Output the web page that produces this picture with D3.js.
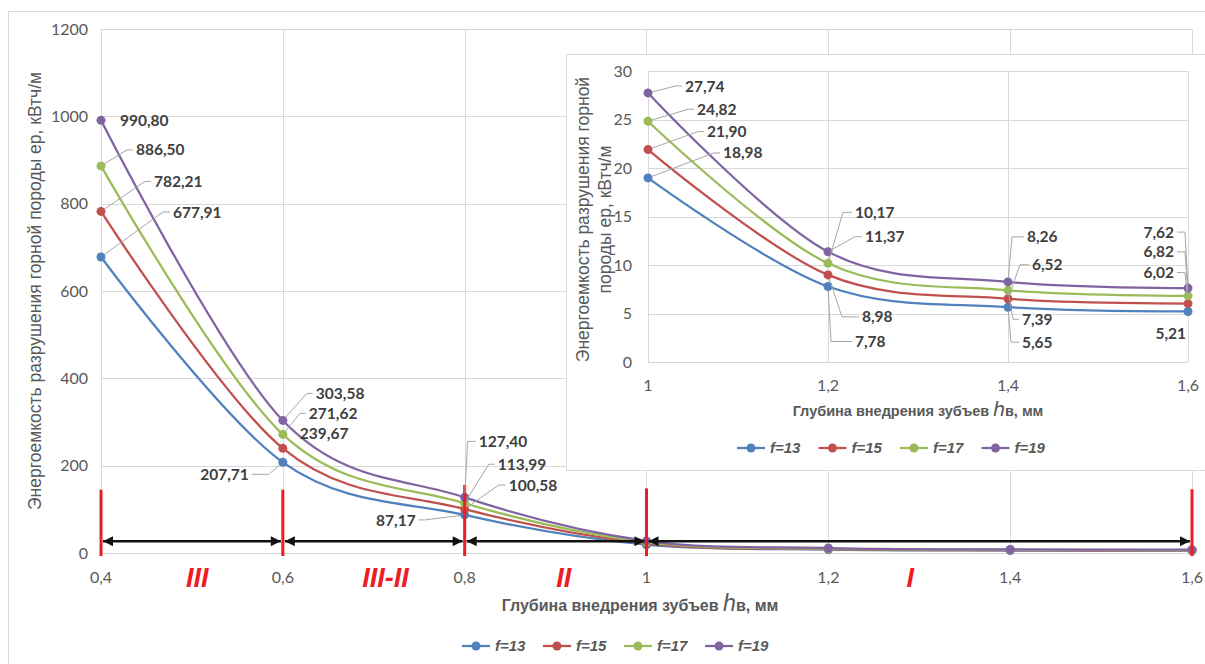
<!DOCTYPE html>
<html>
<head>
<meta charset="utf-8">
<script src="https://cdn.jsdelivr.net/npm/d3@7"></script>
<style>
body { margin: 0; background: #fff; }
svg { display: block; }
</style>
</head>
<body>
<div id="chart"></div>
<script>
// data
var xVals = [0.4, 0.6, 0.8, 1.0, 1.2, 1.4, 1.6];
var seriesNames = ["f=13", "f=15", "f=17", "f=19"];
var f13 = [677.91, 207.71, 87.17, 18.98, 7.78, 5.65, 5.21];
var f15 = [782.21, 239.67, 100.58, 21.90, 8.98, 6.52, 6.02];
var f17 = [886.50, 271.62, 113.99, 24.82, 10.17, 7.39, 6.82];
var f19 = [990.80, 303.58, 127.40, 27.74, 11.37, 8.26, 7.62];
var mainYTicks = [0, 200, 400, 600, 800, 1000, 1200];
var mainXTicks = [0.4, 0.6, 0.8, 1.0, 1.2, 1.4, 1.6];
var insetYTicks = [0, 5, 10, 15, 20, 25, 30];
var insetXTicks = [1.0, 1.2, 1.4, 1.6];
var zoneBounds = [0.4, 0.6, 0.8, 1.0, 1.6];
var zoneTops = [145, 145, 156, 148, 146];
var zoneNames = ["III", "III-II", "II", "I"];
var zoneNameX = [0.506, 0.713, 0.909, 1.29];
var arrowLevel = 27;

var series = [f13, f15, f17, f19];
var colors = ["#4F81BD", "#C0504D", "#9BBB59", "#8064A2"];

var W = 1205, H = 664;
var grid = "#d9d9d9";
var txt = "#595959";
var lblCol = "#404040";
var numFont = "Lato, 'Open Sans', sans-serif";
var titleFont = "'Liberation Sans', Arial, sans-serif";

var fmtTick = function(v) { return d3.format("~g")(+v.toFixed(2)).replace(".", ","); };
var fmtVal = function(v) { return d3.format(".2f")(v).replace(".", ","); };

// label layout: series, point, text offset, anchor, leader elbow (null = no leader)
var mainLabels = [
  {s:3, i:0, dx:19, dy:0, a:"start", e:null},
  {s:2, i:0, dx:35, dy:-16, a:"start", e:[26,-16]},
  {s:1, i:0, dx:53, dy:-30, a:"start", e:[44,-30]},
  {s:0, i:0, dx:72, dy:-45, a:"start", e:[62,-45]},
  {s:3, i:1, dx:33, dy:-27, a:"start", e:[24,-27]},
  {s:2, i:1, dx:26, dy:-21, a:"start", e:[17,-21]},
  {s:1, i:1, dx:17, dy:-15, a:"start", e:null},
  {s:0, i:1, dx:-34, dy:12, a:"end", e:[-14,12]},
  {s:3, i:2, dx:14, dy:-56, a:"start", e:[3,-56]},
  {s:2, i:2, dx:33, dy:-39, a:"start", e:[24,-39]},
  {s:1, i:2, dx:44, dy:-24, a:"start", e:[34,-24]},
  {s:0, i:2, dx:-49, dy:5, a:"end", e:[-40,5]}
];
var insetLabels = [
  {s:3, i:3, dx:37, dy:-7, a:"start", e:[28,-7]},
  {s:2, i:3, dx:49, dy:-12, a:"start", e:[40,-12]},
  {s:1, i:3, dx:59, dy:-18, a:"start", e:[50,-18]},
  {s:0, i:3, dx:75, dy:-25, a:"start", e:[66,-25]},
  {s:3, i:4, dx:37, dy:-15, a:"start", e:[27,-15]},
  {s:2, i:4, dx:27, dy:-51, a:"start", e:[15,-51]},
  {s:1, i:4, dx:34, dy:42, a:"start", e:[14,42]},
  {s:0, i:4, dx:27, dy:55, a:"start", e:[3,55]},
  {s:3, i:5, dx:19, dy:-45, a:"start", e:[4,-45]},
  {s:1, i:5, dx:24, dy:-34, a:"start", e:[12,-34]},
  {s:2, i:5, dx:14, dy:29, a:"start", e:[5,29]},
  {s:0, i:5, dx:14, dy:35, a:"start", e:[3,35]},
  {s:3, i:6, dx:-14, dy:-56, a:"end", e:[-3,-56]},
  {s:2, i:6, dx:-14, dy:-44, a:"end", e:[-3,-44]},
  {s:1, i:6, dx:-14, dy:-31, a:"end", e:[-3,-31]},
  {s:0, i:6, dx:-2, dy:22, a:"end", e:null}
];

var svg = d3.select("#chart").append("svg")
  .attr("width", W).attr("height", H)
  .style("background", "#fff");

var defs = svg.append("defs");
defs.append("marker").attr("id", "ahEnd")
  .attr("viewBox", "0 0 10 10").attr("refX", 10).attr("refY", 5)
  .attr("markerWidth", 11).attr("markerHeight", 10).attr("markerUnits", "userSpaceOnUse")
  .attr("orient", "auto")
  .append("path").attr("d", "M0,0 L10,5 L0,10 Z").attr("fill", "#111");
defs.append("marker").attr("id", "ahStart")
  .attr("viewBox", "0 0 10 10").attr("refX", 0).attr("refY", 5)
  .attr("markerWidth", 11).attr("markerHeight", 10).attr("markerUnits", "userSpaceOnUse")
  .attr("orient", "auto")
  .append("path").attr("d", "M10,0 L0,5 L10,10 Z").attr("fill", "#111");

// outer chart border
svg.append("rect").attr("x", 8.5).attr("y", 11.5).attr("width", W + 20).attr("height", H + 20)
  .attr("fill", "#fff").attr("stroke", grid);

function drawSeries(g, xs, ys, from) {
  var line = d3.line()
    .x(function(d) { return xs(d[0]); })
    .y(function(d) { return ys(d[1]); })
    .curve(d3.curveCardinal.tension(0));
  series.forEach(function(vals, s) {
    var pts = xVals.map(function(x, i) { return [x, vals[i]]; }).slice(from);
    g.append("path").datum(pts)
      .attr("d", line).attr("fill", "none")
      .attr("stroke", colors[s]).attr("stroke-width", 2.25);
    g.selectAll(null).data(pts).enter().append("circle")
      .attr("cx", function(d) { return xs(d[0]); })
      .attr("cy", function(d) { return ys(d[1]); })
      .attr("r", 4.5).attr("fill", colors[s]);
  });
}

function drawLabels(g, list, xs, ys) {
  list.forEach(function(L) {
    var px = xs(xVals[L.i]), py = ys(series[L.s][L.i]);
    var sign = L.a === "start" ? 1 : -1;
    if (L.e) {
      var ex = L.e[0], ey = L.e[1];
      var len = Math.sqrt(ex * ex + ey * ey) || 1;
      g.append("path")
        .attr("d", "M" + (px + ex / len * 4) + "," + (py + ey / len * 4) +
          " L" + (px + ex) + "," + (py + ey) +
          " L" + (px + L.dx - sign * 3) + "," + (py + L.dy))
        .attr("fill", "none").attr("stroke", "#a6a6a6").attr("stroke-width", 1);
    }
    g.append("text")
      .attr("x", px + L.dx).attr("y", py + L.dy).attr("dy", "0.36em")
      .attr("text-anchor", L.a)
      .attr("font-family", numFont).attr("font-weight", "bold").attr("font-size", 15.5)
      .attr("fill", lblCol)
      .text(fmtVal(series[L.s][L.i]));
  });
}

function drawLegend(g, x0, y, step) {
  seriesNames.forEach(function(name, s) {
    var lx = x0 + s * step;
    g.append("line").attr("x1", lx).attr("x2", lx + 28).attr("y1", y).attr("y2", y)
      .attr("stroke", colors[s]).attr("stroke-width", 2.25);
    g.append("circle").attr("cx", lx + 14).attr("cy", y).attr("r", 4.5).attr("fill", colors[s]);
    g.append("text").attr("x", lx + 33).attr("y", y).attr("dy", "0.36em")
      .attr("font-family", titleFont).attr("font-weight", "bold").attr("font-style", "italic")
      .attr("font-size", 15).attr("fill", txt).text(name);
  });
}

function xTitle(g, cx, y, size) {
  var t = g.append("text").attr("x", cx).attr("y", y).attr("text-anchor", "middle")
    .attr("font-family", titleFont).attr("font-weight", "bold").attr("font-size", size)
    .attr("fill", txt);
  t.append("tspan").text("Глубина внедрения зубъев ");
  t.append("tspan").attr("font-style", "italic").attr("font-weight", "normal")
    .attr("font-size", size * 1.45).text("h");
  t.append("tspan").text("в, мм");
}

// ---------- main chart ----------
var x = d3.scaleLinear().domain([0.4, 1.6]).range([101, 1192]);
var y = d3.scaleLinear().domain([0, 1200]).range([553, 29]);
var gm = svg.append("g");

gm.selectAll(null).data(mainYTicks).enter().append("line")
  .attr("x1", x(0.4)).attr("x2", x(1.6))
  .attr("y1", function(d) { return Math.round(y(d)) + 0.5; })
  .attr("y2", function(d) { return Math.round(y(d)) + 0.5; })
  .attr("stroke", grid);
gm.selectAll(null).data(mainXTicks).enter().append("line")
  .attr("x1", function(d) { return Math.round(x(d)) + 0.5; })
  .attr("x2", function(d) { return Math.round(x(d)) + 0.5; })
  .attr("y1", y(1200)).attr("y2", y(0))
  .attr("stroke", grid);

gm.selectAll(null).data(mainYTicks).enter().append("text")
  .attr("x", 88).attr("y", function(d) { return y(d); }).attr("dy", "0.36em")
  .attr("text-anchor", "end").attr("font-family", numFont).attr("font-size", 16)
  .attr("fill", txt).text(function(d) { return d; });
gm.selectAll(null).data(mainXTicks).enter().append("text")
  .attr("x", function(d) { return x(d); }).attr("y", y(0) + 24).attr("dy", "0.36em")
  .attr("text-anchor", "middle").attr("font-family", numFont).attr("font-size", 16)
  .attr("fill", txt).text(fmtTick);

drawSeries(gm, x, y, 0);

// zones: red bounds, arrows, roman numerals
zoneBounds.forEach(function(b, k) {
  gm.append("line").attr("x1", x(b)).attr("x2", x(b))
    .attr("y1", y(-7)).attr("y2", y(zoneTops[k]))
    .attr("stroke", "#ee1c24").attr("stroke-width", 3);
});
zoneNames.forEach(function(name, k) {
  var a = x(zoneBounds[k]) + 2, b = x(zoneBounds[k + 1]) - 2;
  gm.append("line").attr("x1", a).attr("x2", b)
    .attr("y1", y(arrowLevel)).attr("y2", y(arrowLevel))
    .attr("stroke", "#111").attr("stroke-width", 2.5)
    .attr("marker-start", "url(#ahStart)").attr("marker-end", "url(#ahEnd)");
  gm.append("text").attr("x", x(zoneNameX[k])).attr("y", y(0) + 24).attr("dy", "0.36em")
    .attr("text-anchor", "middle").attr("font-family", titleFont)
    .attr("font-weight", "bold").attr("font-style", "italic").attr("font-size", 27)
    .attr("fill", "#ee1c24").text(name);
});

drawLabels(gm, mainLabels, x, y);

gm.append("text")
  .attr("transform", "translate(41," + ((y(0) + y(1200)) / 2) + ") rotate(-90)")
  .attr("text-anchor", "middle").attr("font-family", titleFont).attr("font-size", 17.5)
  .attr("fill", txt).text("Энергоемкость разрушения горной породы  ер, кВтч/м");
xTitle(gm, 640, 611, 16);
drawLegend(gm, 462, 646, 81);

// ---------- inset ----------
var xi = d3.scaleLinear().domain([1.0, 1.6]).range([648, 1188]);
var yi = d3.scaleLinear().domain([0, 30]).range([362, 71]);
var gi = svg.append("g");

gi.append("rect").attr("x", 566.5).attr("y", 54.5).attr("width", 700).attr("height", 416)
  .attr("fill", "#fff").attr("stroke", grid);

gi.selectAll(null).data(insetYTicks).enter().append("line")
  .attr("x1", xi(1.0)).attr("x2", xi(1.6))
  .attr("y1", function(d) { return Math.round(yi(d)) + 0.5; })
  .attr("y2", function(d) { return Math.round(yi(d)) + 0.5; })
  .attr("stroke", grid);
gi.selectAll(null).data(insetXTicks).enter().append("line")
  .attr("x1", function(d) { return Math.round(xi(d)) + 0.5; })
  .attr("x2", function(d) { return Math.round(xi(d)) + 0.5; })
  .attr("y1", yi(30)).attr("y2", yi(0))
  .attr("stroke", grid);

gi.selectAll(null).data(insetYTicks).enter().append("text")
  .attr("x", 632).attr("y", function(d) { return yi(d); }).attr("dy", "0.36em")
  .attr("text-anchor", "end").attr("font-family", numFont).attr("font-size", 16)
  .attr("fill", txt).text(function(d) { return d; });
gi.selectAll(null).data(insetXTicks).enter().append("text")
  .attr("x", function(d) { return xi(d); }).attr("y", yi(0) + 23).attr("dy", "0.36em")
  .attr("text-anchor", "middle").attr("font-family", numFont).attr("font-size", 16)
  .attr("fill", txt).text(fmtTick);

drawSeries(gi, xi, yi, 3);
drawLabels(gi, insetLabels, xi, yi);

var yl = gi.append("text")
  .attr("transform", "translate(594," + ((yi(0) + yi(30)) / 2 + 3) + ") rotate(-90)")
  .attr("text-anchor", "middle").attr("font-family", titleFont).attr("font-size", 17.5)
  .attr("fill", txt);
yl.append("tspan").attr("x", 0).attr("dy", "-0.28em").text("Энергоемкость разрушения горной");
yl.append("tspan").attr("x", 0).attr("dy", "1.25em").text("породы ер, кВтч/м");

xTitle(gi, 918, 416, 14.5);
drawLegend(gi, 737, 448, 81.5);
</script>
</body>
</html>
